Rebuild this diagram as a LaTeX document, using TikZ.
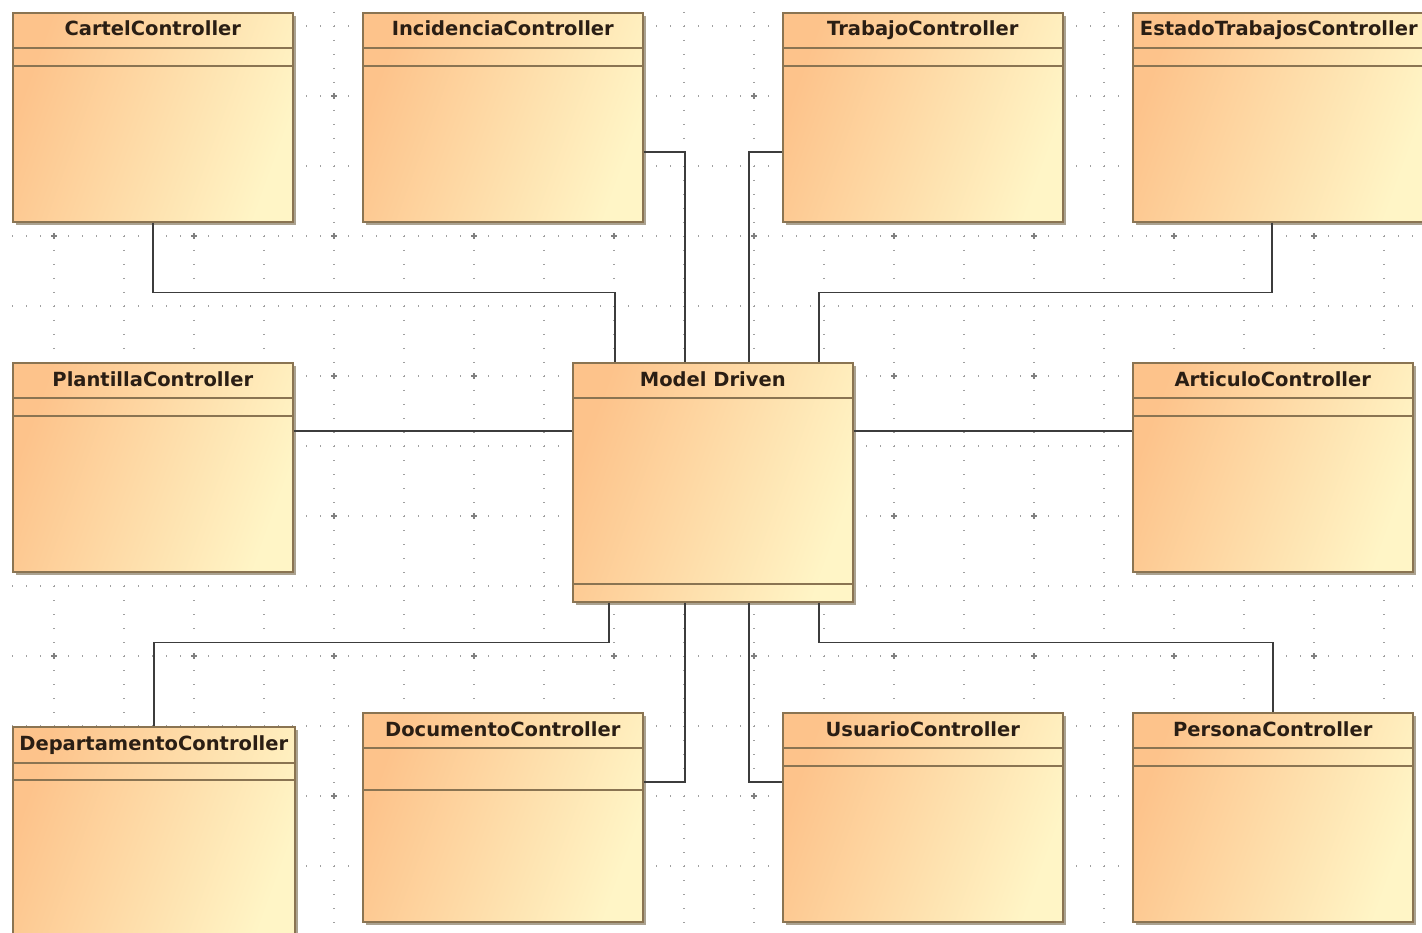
\documentclass[tikz,border=0pt]{standalone}
\usepackage{fontspec}
\setsansfont{DejaVu Sans}
\usepackage{xcolor}
\definecolor{boxline}{HTML}{8A7452}
\definecolor{boxleft}{HTML}{FDC38B}
\definecolor{boxright}{HTML}{FFF5C6}
\definecolor{boxshadow}{HTML}{ABA290}
\definecolor{titletext}{HTML}{2A1E14}
\definecolor{linkline}{HTML}{3C3C3C}
\definecolor{griddot}{HTML}{A0A0A0}
\usepackage{tikz}
\usetikzlibrary{shadows}

\begin{document}
\begin{tikzpicture}[x=1pt, y=-1pt,
  classbox/.style={draw=boxline, line width=1.6pt, anchor=north west,
    left color=boxleft, right color=boxright, shading angle=70,
    minimum width=280, inner sep=0pt,
    drop shadow={shadow xshift=3pt, shadow yshift=-3pt, fill=boxshadow, opacity=1}},
  compartments/.style 2 args={path picture={
    \draw[boxline, line width=1.6pt]
      ([yshift=-#1]path picture bounding box.north west) -- ([yshift=-#1]path picture bounding box.north east)
      ([yshift=-#2]path picture bounding box.north west) -- ([yshift=-#2]path picture bounding box.north east);}},
  classtitle/.style={anchor=base, yshift=-24pt, inner sep=0pt, text=titletext,
    font=\fontsize{19.5}{22}\selectfont\sffamily\bfseries},
  link/.style={draw=linkline, line width=1.6pt},
  griddots/.style={griddot, line width=1.2pt, dash pattern=on 1.2pt off 12.8pt}]

  \fill[white] (0,0) rectangle (1422,933);
  \useasboundingbox (0,0) rectangle (1422,933);

  % dotted grid
  \foreach \gx in {54,124,...,1404}
    \draw[griddots] (\gx,-2) -- (\gx,935);
  \foreach \gy in {26,96,...,936}
    \draw[griddots] (-2,\gy) -- (1424,\gy);
  \foreach \gx in {54,194,...,1404}
    \foreach \gy in {96,236,...,936}
      \draw[griddot!80!black, line width=1.2pt] (\gx-3,\gy) -- (\gx+3,\gy) (\gx,\gy-3) -- (\gx,\gy+3);

  % top row
  \node[classbox, minimum height=209, compartments={35}{53},
        label={[classtitle]north:CartelController}] (cartel) at (12,12) {};
  \node[classbox, minimum height=209, compartments={35}{53},
        label={[classtitle]north:IncidenciaController}] (incidencia) at (362,12) {};
  \node[classbox, minimum height=209, compartments={35}{53},
        label={[classtitle]north:TrabajoController}] (trabajo) at (782,12) {};
  \node[classbox, minimum height=209, minimum width=292, compartments={35}{53},
        label={[classtitle]north:EstadoTrabajosController}] (estado) at (1132,12) {};

  % middle row
  \node[classbox, minimum height=209, compartments={35}{53},
        label={[classtitle]north:PlantillaController}] (plantilla) at (12,362) {};
  \node[classbox, minimum height=239, compartments={35}{221},
        label={[classtitle]north:Model Driven}] (model) at (572,362) {};
  \node[classbox, minimum height=209, compartments={35}{53},
        label={[classtitle]north:ArticuloController}] (articulo) at (1132,362) {};

  % bottom row
  \node[classbox, minimum height=215, minimum width=282, compartments={36}{53},
        label={[classtitle]north:DepartamentoController}] (departamento) at (12,726) {};
  \node[classbox, minimum height=209, compartments={35}{77},
        label={[classtitle]north:DocumentoController}] (documento) at (362,712) {};
  \node[classbox, minimum height=209, compartments={35}{53},
        label={[classtitle]north:UsuarioController}] (usuario) at (782,712) {};
  \node[classbox, minimum height=209, compartments={35}{53},
        label={[classtitle]north:PersonaController}] (persona) at (1132,712) {};

  % links to Model Driven
  \draw[link] (cartel.south) -- ++(0,70) -| ([xshift=-98]model.north);
  \draw[link] ([yshift=-140]incidencia.north east) -| ([xshift=-28]model.north);
  \draw[link] ([yshift=-140]trabajo.north west) -| ([xshift=36]model.north);
  \draw[link] ([xshift=140]estado.south west) -- ++(0,70) -| ([xshift=106]model.north);
  \draw[link] ([yshift=-69]plantilla.north east) -- ([yshift=-69]model.north west);
  \draw[link] ([yshift=-69]model.north east) -- ([yshift=-69]articulo.north west);
  \draw[link] ([xshift=-104]model.south) -- ++(0,40) -| (departamento.north);
  \draw[link] ([xshift=-28]model.south) |- ([yshift=-70]documento.north east);
  \draw[link] ([xshift=36]model.south) |- ([yshift=-70]usuario.north west);
  \draw[link] ([xshift=106]model.south) -- ++(0,40) -| (persona.north);
\end{tikzpicture}
\end{document}
